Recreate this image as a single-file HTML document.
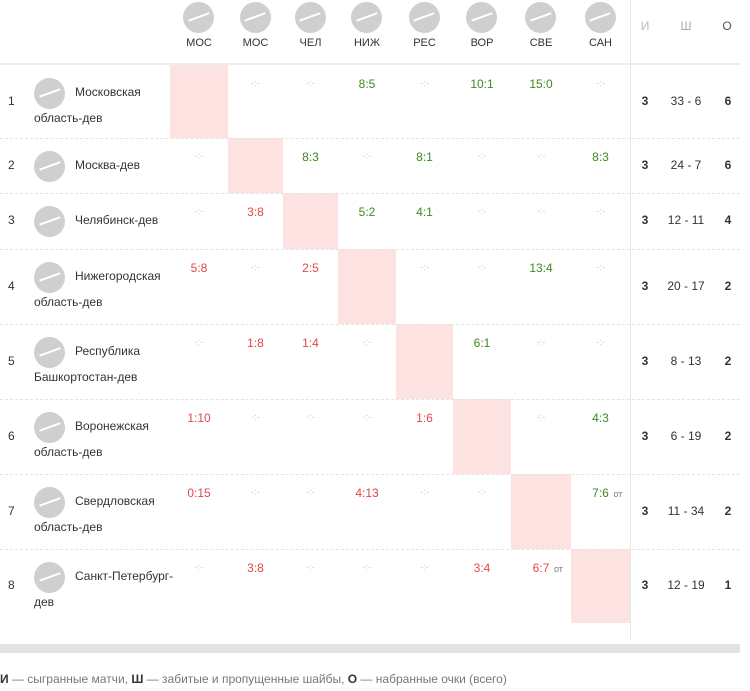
<!DOCTYPE html>
<html><head><meta charset="utf-8">
<style>
body{margin:0;width:750px;height:691px;background:#fff;font-family:"Liberation Sans","Noto Sans CJK SC",sans-serif;position:relative;overflow:hidden}
.a{position:absolute;white-space:nowrap}
.logo{position:absolute;border-radius:50%;background:#cfcfcf}
.logo:before{content:"";position:absolute;left:15%;right:15%;top:46%;height:8%;background:#fff;transform:rotate(-20deg)}
.pk{position:absolute;background:#fde2e2}
.hl{position:absolute;left:0;width:740px;border-top:1px dashed #e3e3e3}
.sc{font-size:12px;transform:translateX(-50%)}
.w{color:#3d8a1e}.l{color:#e04848}.d{color:#ccc;font-size:9px}
.tm{font-size:12px;color:#333}
.st{font-size:12px;color:#333;transform:translateX(-50%)}
</style></head><body>
<div id="root"></div>
<script>
const abbr=["МОС","МОС","ЧЕЛ","НИЖ","РЕС","ВОР","СВЕ","САН"];
const teams=[["Московская","область-дев"],["Москва-дев"],["Челябинск-дев"],["Нижегородская","область-дев"],["Республика","Башкортостан-дев"],["Воронежская","область-дев"],["Свердловская","область-дев"],["Санкт-Петербург-","дев"]];
const scores=[
["","","","8:5","","10:1","15:0",""],
["","","8:3","","8:1","","","8:3"],
["","3:8","","5:2","4:1","","",""],
["5:8","","2:5","","","","13:4",""],
["","1:8","1:4","","","6:1","",""],
["1:10","","","","1:6","","","4:3"],
["0:15","","","4:13","","","","7:6"],
["","3:8","","","","3:4","6:7",""]];
const ot=[[6,7],[7,6]];
const played=[3,3,3,3,3,3,3,3];
const goals=["33 - 6","24 - 7","12 - 11","20 - 17","8 - 13","6 - 19","11 - 34","12 - 19"];
const points=[6,6,4,2,2,2,2,1];
const colE=[170,228,283,338,396,453,511,571,630];
const rowE=[65,138,193,249,324,399,474,549,623];
const root=document.getElementById('root');
function mk(cls,x,y,txt){const e=document.createElement('div');e.className=cls;e.style.left=x+'px';e.style.top=y+'px';if(txt!==undefined)e.textContent=txt;root.appendChild(e);return e;}
// header
abbr.forEach((t,i)=>{const cx=(colE[i]+colE[i+1])/2;
const lg=mk('logo',cx-16,2);lg.style.width='31px';lg.style.height='31px';


const h=mk('a st',cx,37,t);h.style.fontSize='11px';

});
[["И",645,"#bbb"],["Ш",686,"#aaa"],["О",727,"#555"]].forEach(([t,x,c])=>{const e=mk('a st',x,19,t);e.style.color=c;

});
const hb=mk('a',0,63);hb.style.width='740px';hb.style.height='2px';hb.style.background='#eee';


const vl=mk('a',630,0);vl.style.width='1px';vl.style.height='640px';vl.style.background='#e8e8e8';


teams.forEach((nm,r)=>{const y0=rowE[r],y1=rowE[r+1],cy=(y0+y1)/2;
const pk=mk('pk',colE[r],y0);pk.style.width=(colE[r+1]-colE[r])+'px';pk.style.height=(y1-y0)+'px';


if(r>0){const hl=mk('hl',0,y0);}
const n=mk('a tm',8,cy-8,String(r+1));
const lg=mk('logo',34,y0+13,undefined);lg.style.width='31px';lg.style.height='31px';


const t1=mk('a tm',75,y0+20,nm[0]);


if(nm[1]){const t2=mk('a tm',34,y0+46,nm[1]);

}
scores[r].forEach((s,c)=>{if(c===r)return;const cx=(colE[c]+colE[c+1])/2;
let e;if(s===''){e=mk('a sc d',cx,y0+13,'-:-');}
else{const [a,b]=s.split(':').map(Number);e=mk('a sc '+(a>b?'w':'l'),cx,y0+12,s);
if(ot.some(p=>p[0]===r&&p[1]===c)){const o=mk('a',cx+13,y0+15,'OT'.toLowerCase().replace('ot','от'));o.style.fontSize='9px';o.style.color='#777';

}}

});
const p=mk('a st',645,cy-8,String(played[r]));p.style.fontWeight='bold';

const g=mk('a st',686,cy-8,goals[r]);

const o=mk('a st',728,cy-8,String(points[r]));o.style.fontWeight='bold';

});
const gb=mk('a',0,644);gb.style.width='740px';gb.style.height='9px';gb.style.background='#e3e3e3';

const lg=mk('a',0,672);lg.style.fontSize='12px';lg.style.color='#777';
lg.innerHTML='<b style="color:#333">И</b> — сыгранные матчи, <b style="color:#333">Ш</b> — забитые и пропущенные шайбы, <b style="color:#333">О</b> — набранные очки (всего)';

</script>
</body></html>
